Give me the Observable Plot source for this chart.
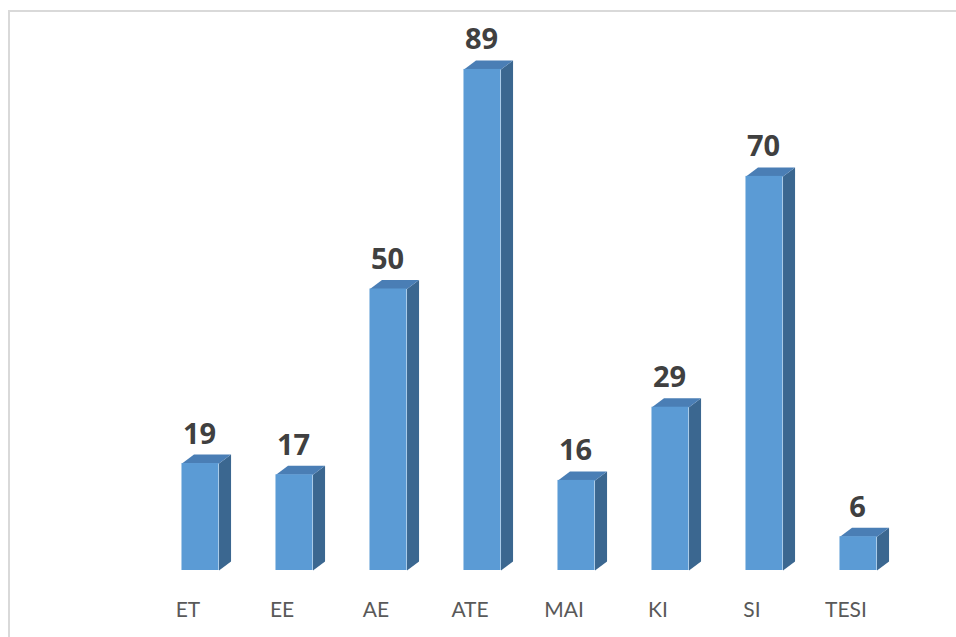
<!DOCTYPE html>
<html>
<head>
<meta charset="utf-8">
<script src="https://cdn.jsdelivr.net/npm/d3@7"></script>
<script src="https://cdn.jsdelivr.net/npm/@observablehq/plot@0.6"></script>
<style>
  html, body { margin: 0; padding: 0; background: #fff; overflow: hidden; }
  #frame { position: absolute; left: 8px; top: 10px; width: 1000px; height: 700px;
           border-top: 2px solid #d9d9d9; border-left: 2px solid #d9d9d9; }
  #chart { position: absolute; left: 0; top: 0; }
</style>
</head>
<body>
<div id="frame"></div>
<div id="chart"></div>
<script>
const categories = ["ET", "EE", "AE", "ATE", "MAI", "KI", "SI", "TESI"];
const values = [19, 17, 50, 89, 16, 29, 70, 6];

// 3D look (in scale units): half width of the front face, depth offsets
const halfW = 0.197;
const depthX = 0.128;
const depthY = 1.6;

const data = categories.map((c, i) => ({cat: c, i, v: values[i]}));

const sidePts = data.flatMap(d => [
  {cat: d.cat, x: d.i + halfW, y: 0},
  {cat: d.cat, x: d.i + halfW + depthX, y: depthY},
  {cat: d.cat, x: d.i + halfW + depthX, y: d.v + depthY},
  {cat: d.cat, x: d.i + halfW, y: d.v}
]);
const topPts = data.flatMap(d => [
  {cat: d.cat, x: d.i - halfW, y: d.v},
  {cat: d.cat, x: d.i + halfW, y: d.v},
  {cat: d.cat, x: d.i + halfW + depthX, y: d.v + depthY},
  {cat: d.cat, x: d.i - halfW + depthX, y: d.v + depthY}
]);

const chart = Plot.plot({
  width: 956,
  height: 637,
  marginLeft: 153,
  marginRight: 51,
  marginTop: 7,
  marginBottom: 67,
  style: {background: "transparent", fontFamily: "Lato, 'Open Sans', sans-serif"},
  x: {domain: [-0.5, 7.5], axis: null},
  y: {domain: [0, 100], axis: null},
  marks: [
    Plot.line(sidePts, {x: "x", y: "y", z: "cat", fill: "#3b6790", stroke: "none", curve: "linear-closed"}),
    Plot.line(topPts, {x: "x", y: "y", z: "cat", fill: "#4a7eb5", stroke: "none", curve: "linear-closed"}),
    Plot.rectY(data, {x1: d => d.i - halfW, x2: d => d.i + halfW, y1: 0, y2: "v", fill: "#5b9bd5"}),
    Plot.text(data, {x: "i", y: "v", text: d => String(d.v), dy: -20, dx: -1, lineAnchor: "bottom",
      fontSize: 29, fontWeight: "bold", fontFamily: "'Open Sans', Lato, sans-serif", fill: "#404040"}),
    Plot.axisX({ticks: d3.range(categories.length), tickFormat: i => categories[i],
      tickSize: 0, tickPadding: 32, fontSize: 21, dx: -12.5, fill: "#595959"})
  ]
});
document.getElementById("chart").appendChild(chart);
</script>
</body>
</html>
